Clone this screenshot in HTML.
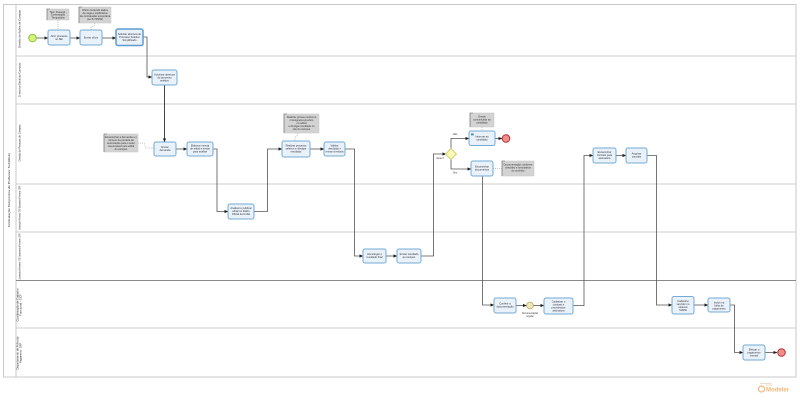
<!DOCTYPE html>
<html>
<head>
<meta charset="utf-8">
<style>
html,body{margin:0;padding:0;background:#fff;}
svg{display:block;}
text{font-family:"Liberation Sans",sans-serif;fill:#333;}
.t rect.b{fill:#e9f1fb;stroke:#74aad6;stroke-width:1;}
.ln{fill:none;stroke:#555;stroke-width:0.8;}
.dt{fill:none;stroke:#888;stroke-width:0.5;stroke-dasharray:1,1;}
.an{fill:#d3d3d3;stroke:#c4c4c4;stroke-width:0.5;}
.br{fill:none;stroke:#666;stroke-width:0.6;}
.tx{font-size:2.6px;text-anchor:middle;}
.lb{font-size:2.8px;fill:#222;}
</style>
</head>
<body>
<svg width="800" height="412" viewBox="0 0 800 412" xmlns="http://www.w3.org/2000/svg">
<defs>
<marker id="ar" markerWidth="4" markerHeight="4" refX="3.5" refY="2" orient="auto" markerUnits="userSpaceOnUse">
<path d="M0,0.4 L3.8,2 L0,3.6 Z" fill="#222"/>
</marker>
</defs>

<!-- pool -->
<rect x="3.5" y="4.5" width="792.5" height="372.5" fill="#fff" stroke="#c8c8c8" stroke-width="1"/>
<line x1="16" y1="4.5" x2="16" y2="377" stroke="#c8c8c8" stroke-width="1"/>
<!-- lane separators -->
<line x1="16" y1="56" x2="796" y2="56" stroke="#cfcfcf" stroke-width="1"/>
<line x1="16" y1="104" x2="796" y2="104" stroke="#cfcfcf" stroke-width="1"/>
<line x1="16" y1="184" x2="796" y2="184" stroke="#cfcfcf" stroke-width="1"/>
<line x1="16" y1="232" x2="796" y2="232" stroke="#cfcfcf" stroke-width="1"/>
<line x1="16" y1="280.5" x2="796" y2="280.5" stroke="#8a8a8a" stroke-width="1"/>
<line x1="16" y1="328" x2="796" y2="328" stroke="#cfcfcf" stroke-width="1"/>

<!-- pool label -->
<text class="lb" transform="translate(10,190) rotate(-90)" text-anchor="middle" textLength="74" lengthAdjust="spacingAndGlyphs">Contratação Temporária de Professor Substituto</text>
<!-- lane labels -->
<text class="lb" transform="translate(20.5,29) rotate(-90)" text-anchor="middle" textLength="38" lengthAdjust="spacingAndGlyphs">Divisão de Ações de Campus</text>
<text class="lb" transform="translate(20.5,80) rotate(-90)" text-anchor="middle" textLength="34" lengthAdjust="spacingAndGlyphs">Diretoria-Geral do Campus</text>
<text class="lb" transform="translate(20.5,143) rotate(-90)" text-anchor="middle" textLength="37" lengthAdjust="spacingAndGlyphs">Gestão de Pessoas do Campus</text>
<text class="lb" transform="translate(20.5,208) rotate(-90)" text-anchor="middle" textLength="44" lengthAdjust="spacingAndGlyphs">Coordenação de Provimento - CPE / Departamento de Provimento - DEPR</text>
<text class="lb" transform="translate(20.5,256.5) rotate(-90)" text-anchor="middle" textLength="46" lengthAdjust="spacingAndGlyphs">Coordenação de Provimento - CPE / Departamento de Provimento - DEPR</text>
<text class="lb" transform="translate(18.5,305) rotate(-90)" text-anchor="middle" textLength="33" lengthAdjust="spacingAndGlyphs">Coordenação de Cadastro</text>
<text class="lb" transform="translate(21.5,305) rotate(-90)" text-anchor="middle" textLength="22" lengthAdjust="spacingAndGlyphs">Funcional - CCF</text>
<text class="lb" transform="translate(18.5,353) rotate(-90)" text-anchor="middle" textLength="33" lengthAdjust="spacingAndGlyphs">Departamento de Folha de</text>
<text class="lb" transform="translate(21.5,353) rotate(-90)" text-anchor="middle" textLength="20" lengthAdjust="spacingAndGlyphs">Pagamento - DFP</text>

<!-- connectors -->
<line class="ln" x1="36" y1="38" x2="48" y2="38" marker-end="url(#ar)"/>
<line class="ln" x1="70" y1="38" x2="80" y2="38" marker-end="url(#ar)"/>
<line class="ln" x1="102" y1="38" x2="116" y2="38" marker-end="url(#ar)"/>
<polyline class="ln" points="143,37 147,37 147,77 152,77" marker-end="url(#ar)"/>
<line class="ln" x1="164.5" y1="85" x2="164.5" y2="142" marker-end="url(#ar)" style="stroke:#444;stroke-width:1"/>
<line class="ln" x1="176" y1="149" x2="187" y2="149" marker-end="url(#ar)"/>
<polyline class="ln" points="213,149 217,149 217,211.5 228,211.5" marker-end="url(#ar)"/>
<polyline class="ln" points="254,211.5 267.5,211.5 267.5,149 282,149" marker-end="url(#ar)"/>
<line class="ln" x1="310" y1="149" x2="324" y2="149" marker-end="url(#ar)"/>
<polyline class="ln" points="345,149 354.5,149 354.5,256 363,256" marker-end="url(#ar)"/>
<line class="ln" x1="386" y1="256" x2="397" y2="256" marker-end="url(#ar)"/>
<polyline class="ln" points="421,256 433.5,256 433.5,154 446,154" marker-end="url(#ar)"/>
<polyline class="ln" points="451,149 451,138.5 469,138.5" marker-end="url(#ar)"/>
<line class="ln" x1="495" y1="138.5" x2="502" y2="138.5" marker-end="url(#ar)"/>
<polyline class="ln" points="451,159 451,169 471,169" marker-end="url(#ar)"/>
<polyline class="ln" points="482.5,176 482.5,305 494,305" marker-end="url(#ar)"/>
<line class="ln" x1="516" y1="305.5" x2="526.5" y2="305.5" marker-end="url(#ar)"/>
<line class="ln" x1="533.5" y1="305.5" x2="544" y2="305.5" marker-end="url(#ar)"/>
<polyline class="ln" points="573,305.5 584,305.5 584,155.5 593,155.5" marker-end="url(#ar)"/>
<line class="ln" x1="616" y1="155.5" x2="626" y2="155.5" marker-end="url(#ar)"/>
<polyline class="ln" points="647,155.5 656.5,155.5 656.5,305 672,305" marker-end="url(#ar)"/>
<line class="ln" x1="694" y1="305" x2="708" y2="305" marker-end="url(#ar)"/>
<polyline class="ln" points="730,305 734.5,305 734.5,352.5 743,352.5" marker-end="url(#ar)"/>
<line class="ln" x1="765" y1="352.5" x2="777" y2="352.5" marker-end="url(#ar)"/>

<!-- annotation associations -->
<polyline class="dt" points="58,20 58,30"/>
<polyline class="dt" points="95,23 94,26 91,27 91,30"/>
<polyline class="dt" points="138,143 144,143 146,148 154,148"/>
<polyline class="dt" points="298,133 297,136 295,137 295,141"/>
<polyline class="dt" points="482,127 482,131"/>
<line class="dt" x1="493" y1="168.5" x2="502" y2="168.5"/>

<!-- annotations -->
<g>
<rect class="an" x="47" y="9" width="22" height="11"/>
<path class="br" d="M50,9 L47,9 L47,20"/>
<text class="tx" x="58" y="12.8">Tipo: Pessoal -</text>
<text class="tx" x="58" y="15.6">Contratação</text>
<text class="tx" x="58" y="18.4">Temporária</text>
</g>
<g>
<rect class="an" x="79" y="7" width="32" height="16"/>
<path class="br" d="M82,7 L79,7 L79,23"/>
<text class="tx" x="95" y="11">Ofício contendo dados</text>
<text class="tx" x="95" y="14">da vaga e justificativa</text>
<text class="tx" x="95" y="17">da contratação temporária</text>
<text class="tx" x="95" y="20">(Lei 8.745/93)</text>
</g>
<g>
<rect class="an" x="104" y="134" width="34" height="18"/>
<path class="br" d="M107,134 L104,134 L104,152"/>
<text class="tx" x="121" y="138">Encaminhar a demanda e o</text>
<text class="tx" x="121" y="141">número da portaria de</text>
<text class="tx" x="121" y="144">autorização para o setor</text>
<text class="tx" x="121" y="147">responsável pelo edital</text>
<text class="tx" x="121" y="150">do campus</text>
</g>
<g>
<rect class="an" x="284" y="114" width="35" height="19"/>
<path class="br" d="M287,114 L284,114 L284,133"/>
<text class="tx" x="301.5" y="118">Realizar provas conforme</text>
<text class="tx" x="301.5" y="121">cronograma previsto</text>
<text class="tx" x="301.5" y="124">no edital</text>
<text class="tx" x="301.5" y="127">e divulgar resultado no</text>
<text class="tx" x="301.5" y="130">site do campus</text>
</g>
<g>
<rect class="an" x="470" y="113" width="24" height="14"/>
<path class="br" d="M473,113 L470,113 L470,127"/>
<text class="tx" x="482" y="117.5">Enviar</text>
<text class="tx" x="482" y="120.5">comunicado ao</text>
<text class="tx" x="482" y="123.5">candidato</text>
</g>
<g>
<rect class="an" x="502" y="161" width="32" height="15"/>
<path class="br" d="M505,161 L502,161 L502,176"/>
<text class="tx" x="518" y="165.5">Documentação conforme</text>
<text class="tx" x="518" y="168.5">checklist e formulários</text>
<text class="tx" x="518" y="171.5">do contrato</text>
</g>

<!-- tasks -->
<g class="t">
<rect class="b" x="48" y="30" width="22" height="15" rx="2"/>
<text class="tx" x="59" y="37">Abrir processo</text><text class="tx" x="59" y="40">no SEI</text>
</g>
<g class="t">
<rect class="b" x="80" y="30" width="22" height="15" rx="2"/>
<text class="tx" x="91" y="38.5">Enviar ofício</text>
</g>
<g class="t">
<rect class="b" x="116" y="29" width="27" height="16.5" rx="2" style="stroke-width:1.5;stroke:#5d9bd0"/>
<text class="tx" x="129.5" y="35">Solicitar abertura de</text><text class="tx" x="129.5" y="38">Processo Seletivo</text><text class="tx" x="129.5" y="41">Simplificado</text>
</g>
<g class="t">
<rect class="b" x="152" y="70" width="25" height="15" rx="2"/>
<text class="tx" x="164.5" y="75.5">Autorizar abertura</text><text class="tx" x="164.5" y="78.5">do processo</text><text class="tx" x="164.5" y="81.5">seletivo</text>
</g>
<g class="t">
<rect class="b" x="154" y="142" width="22" height="14" rx="2"/>
<text class="tx" x="165" y="148">Enviar</text><text class="tx" x="165" y="151">demanda</text>
</g>
<g class="t">
<rect class="b" x="187" y="142" width="26" height="14" rx="2"/>
<text class="tx" x="200" y="146.5">Elaborar minuta</text><text class="tx" x="200" y="149.5">de edital e enviar</text><text class="tx" x="200" y="152.5">para análise</text>
</g>
<g class="t">
<rect class="b" x="228" y="204" width="26" height="15" rx="2"/>
<text class="tx" x="241" y="209">Analisar e publicar</text><text class="tx" x="241" y="212">edital no Diário</text><text class="tx" x="241" y="215">Oficial da União</text>
</g>
<g class="t">
<rect class="b" x="282" y="141" width="28" height="16" rx="2"/>
<text class="tx" x="296" y="146.5">Realizar processo</text><text class="tx" x="296" y="149.5">seletivo e divulgar</text><text class="tx" x="296" y="152.5">resultado</text>
</g>
<g class="t">
<rect class="b" x="324" y="142" width="21" height="14" rx="2"/>
<text class="tx" x="334.5" y="146.5">Validar</text><text class="tx" x="334.5" y="149.5">resultado e</text><text class="tx" x="334.5" y="152.5">enviar à reitoria</text>
</g>
<g class="t">
<rect class="b" x="363" y="249" width="23" height="14" rx="2"/>
<text class="tx" x="374.5" y="255">Homologar o</text><text class="tx" x="374.5" y="258">resultado final</text>
</g>
<g class="t">
<rect class="b" x="397" y="249" width="24" height="14" rx="2"/>
<text class="tx" x="409" y="255">Enviar resultado</text><text class="tx" x="409" y="258">ao campus</text>
</g>
<!-- gateway -->
<path d="M451,148.5 L456.5,154 L451,159.5 L445.5,154 Z" fill="#fbfab4" stroke="#c8c46a" stroke-width="0.8"/>
<text class="tx" x="440" y="159" style="font-size:2.4px">Aprov?</text>
<text class="tx" x="455" y="135" style="font-size:2.4px">Não</text>
<text class="tx" x="455" y="173.5" style="font-size:2.4px">Sim</text>
<g class="t">
<rect class="b" x="469" y="131" width="26" height="14.5" rx="2"/>
<path d="M471,133.5 h2.6 v1.8 h-2.6 z" fill="#3b7fc4"/>
<text class="tx" x="482" y="137.5">Informar ao</text><text class="tx" x="482" y="140.5">candidato</text>
</g>
<circle cx="506" cy="138.5" r="3.8" fill="#f08d8d" stroke="#b03030" stroke-width="1"/>
<g class="t">
<rect class="b" x="471" y="161" width="22" height="15" rx="2"/>
<text class="tx" x="482" y="167.5">Encaminhar</text><text class="tx" x="482" y="170.5">documentos</text>
</g>
<g class="t">
<rect class="b" x="494" y="298" width="22" height="15" rx="2"/>
<text class="tx" x="505" y="304.5">Conferir a</text><text class="tx" x="505" y="307.5">documentação</text>
</g>
<circle cx="530" cy="305.5" r="3.4" fill="#ebe7b8" stroke="#b8a860" stroke-width="0.8"/>
<text class="tx" x="530" y="314" style="font-size:2.4px">Documentação</text>
<text class="tx" x="530" y="317" style="font-size:2.4px">regular</text>
<g class="t">
<rect class="b" x="544" y="298" width="29" height="16" rx="2"/>
<text class="tx" x="558.5" y="302.5">Cadastrar o</text><text class="tx" x="558.5" y="305.5">contrato e</text><text class="tx" x="558.5" y="308.5">providenciar</text><text class="tx" x="558.5" y="311.5">assinatura</text>
</g>
<g class="t">
<rect class="b" x="593" y="148" width="23" height="15" rx="2"/>
<text class="tx" x="604.5" y="153">Encaminhar</text><text class="tx" x="604.5" y="156">contrato para</text><text class="tx" x="604.5" y="159">assinatura</text>
</g>
<g class="t">
<rect class="b" x="626" y="148" width="21" height="15" rx="2"/>
<text class="tx" x="636.5" y="154.5">Arquivar</text><text class="tx" x="636.5" y="157.5">contrato</text>
</g>
<g class="t">
<rect class="b" x="672" y="296.5" width="22" height="17.5" rx="2"/>
<text class="tx" x="683" y="302">Cadastrar</text><text class="tx" x="683" y="305">servidor no</text><text class="tx" x="683" y="308">sistema</text><text class="tx" x="683" y="311">SIAPE</text>
</g>
<g class="t">
<rect class="b" x="708" y="298" width="22" height="14" rx="2"/>
<text class="tx" x="719" y="303.5">Incluir na</text><text class="tx" x="719" y="306.5">folha de</text><text class="tx" x="719" y="309.5">pagamento</text>
</g>
<g class="t">
<rect class="b" x="743" y="345" width="22" height="15" rx="2"/>
<text class="tx" x="754" y="350.5">Efetuar o</text><text class="tx" x="754" y="353.5">pagamento</text><text class="tx" x="754" y="356.5">mensal</text>
</g>
<circle cx="781.5" cy="352.5" r="3.8" fill="#f08d8d" stroke="#b03030" stroke-width="1"/>
<!-- start event -->
<circle cx="32.5" cy="38" r="3.8" fill="#d6f07a" stroke="#8fc23a" stroke-width="1"/>

<!-- logo -->
<text x="760" y="384" style="font-size:2.2px;fill:#c9a58a">Powered by</text>
<circle cx="761.5" cy="389" r="3" fill="none" stroke="#f5b77a" stroke-width="1.2"/>
<text x="766" y="391.5" style="font-size:6px;fill:#f5b77a;font-weight:bold">Modeler</text>
<text x="766" y="386" style="font-size:2.4px;fill:#f5c99a">bizagi</text>
</svg>
</body>
</html>
